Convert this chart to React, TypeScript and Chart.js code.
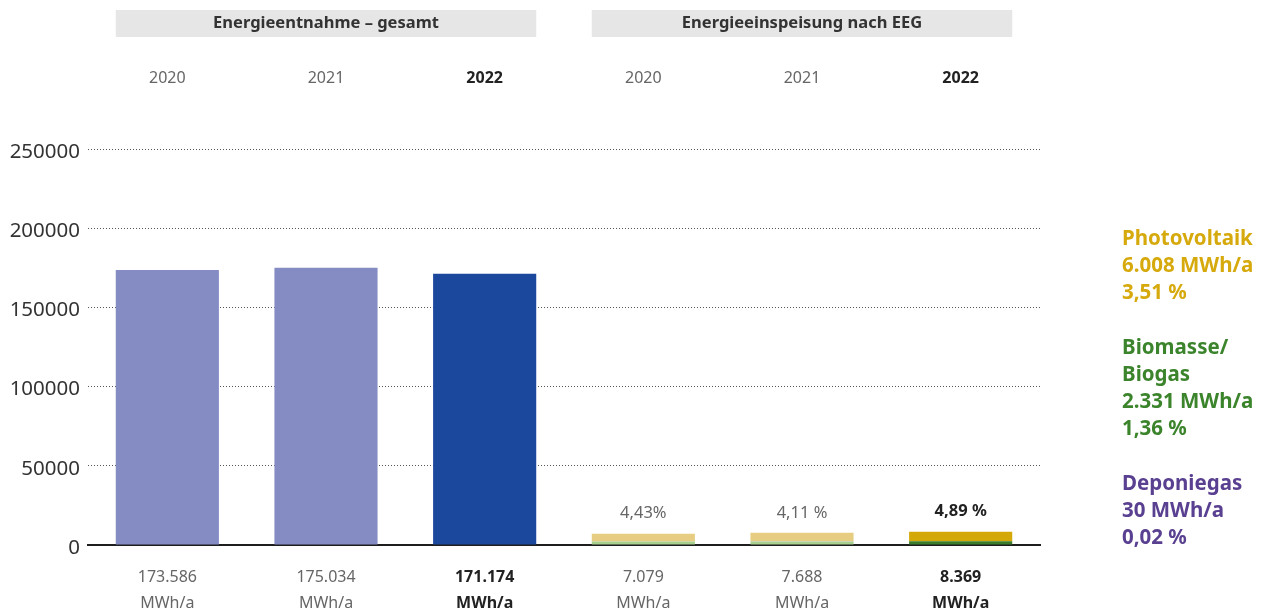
import React, { useEffect, useRef } from "react";
import { Chart, registerables } from "chart.js";

Chart.register(...registerables);

const years = ["2020", "2021", "2022", "2020", "2021", "2022"];
const totalLabels = ["173.586", "175.034", "171.174", "7.079", "7.688", "8.369"];
const unitLabel = "MWh/a";
const entnahme = [173586, 175034, 171174, null, null, null];
const biomasse = [null, null, null, 2250, 2280, 2331];
const deponiegas = [null, null, null, 29, 28, 30];
const photovoltaik = [null, null, null, 4800, 5380, 6008];
const shareLabels = ["", "", "", "4,43%", "4,11 %", "4,89 %"];
const groupTitles = ["Energieentnahme – gesamt", "Energieeinspeisung nach EEG"];
const legendBlocks = [
  { lines: ["Photovoltaik", "6.008 MWh/a", "3,51 %"], color: "#d6a90c" },
  { lines: ["Biomasse/", "Biogas", "2.331 MWh/a", "1,36 %"], color: "#3b842c" },
  { lines: ["Deponiegas", "30 MWh/a", "0,02 %"], color: "#5a4090" },
];

const FONT = "'Noto Sans', 'DejaVu Sans', sans-serif";
const isCurrent = (i: number) => i % 3 === 2;

const overlayPlugin = {
  id: "overlay",
  afterDraw(chart: any) {
    const ctx = chart.ctx;
    const area = chart.chartArea;
    const m0 = chart.getDatasetMeta(0);
    const mPV = chart.getDatasetMeta(3);
    const groups = [
      [m0.data[0], m0.data[2]],
      [mPV.data[3], mPV.data[5]],
    ];
    ctx.save();
    groups.forEach((g, gi) => {
      const a: any = g[0];
      const b: any = g[1];
      const left = a.x - a.width / 2;
      const right = b.x + b.width / 2;
      ctx.fillStyle = "#e6e6e6";
      ctx.fillRect(left, 10, right - left, 27);
      ctx.fillStyle = "#333333";
      ctx.font = `bold 16.5px ${FONT}`;
      ctx.textAlign = "center";
      ctx.textBaseline = "middle";
      ctx.fillText(groupTitles[gi], (left + right) / 2, 23);
    });
    mPV.data.forEach((el: any, i: number) => {
      if (!shareLabels[i]) return;
      ctx.font = `${isCurrent(i) ? "bold " : ""}16.5px ${FONT}`;
      ctx.fillStyle = isCurrent(i) ? "#222222" : "#666666";
      ctx.textAlign = "center";
      ctx.textBaseline = "middle";
      const top = Math.min(el.y, el.base);
      ctx.fillText(shareLabels[i], el.x, top - 20);
    });
    let y = 239;
    const x = area.right + 82;
    ctx.textAlign = "left";
    ctx.textBaseline = "middle";
    ctx.font = `bold 20.5px ${FONT}`;
    legendBlocks.forEach((blk) => {
      ctx.fillStyle = blk.color;
      blk.lines.forEach((ln) => {
        ctx.fillText(ln, x, y);
        y += 27;
      });
      y += 28;
    });
    ctx.restore();
  },
};

export default function App() {
  const ref = useRef<HTMLCanvasElement | null>(null);
  useEffect(() => {
    if (!ref.current) return;
    const chart = new Chart(ref.current, {
      type: "bar",
      data: {
        labels: years,
        datasets: [
          {
            label: "Energieentnahme",
            data: entnahme,
            backgroundColor: ["#858cc4", "#858cc4", "#1b479c", "#858cc4", "#858cc4", "#1b479c"],
          },
          {
            label: "Biomasse/Biogas",
            data: biomasse,
            backgroundColor: ["#a8d08e", "#a8d08e", "#3c7d2b", "#a8d08e", "#a8d08e", "#3c7d2b"],
          },
          {
            label: "Deponiegas",
            data: deponiegas,
            backgroundColor: ["#b9a8d6", "#b9a8d6", "#5a3f8e", "#b9a8d6", "#b9a8d6", "#5a3f8e"],
          },
          {
            label: "Photovoltaik",
            data: photovoltaik,
            backgroundColor: ["#e6cd82", "#e6cd82", "#d4a806", "#e6cd82", "#e6cd82", "#d4a806"],
          },
        ] as any,
      },
      options: {
        responsive: false,
        animation: false,
        layout: { padding: { left: 0, right: 228, top: 0, bottom: 0 } },
        datasets: { bar: { barPercentage: 0.65, categoryPercentage: 1, borderWidth: 0 } } as any,
        plugins: { legend: { display: false }, tooltip: { enabled: false } },
        scales: {
          x: {
            type: "category",
            position: "bottom",
            stacked: true,
            labels: totalLabels.map((t) => [t, unitLabel]) as any,
            grid: { display: false, drawTicks: false },
            border: { display: true, color: "#1e1e1e", width: 2 },
            afterFit: (s: any) => {
              s.height = 68;
            },
            ticks: {
              padding: 19,
              maxRotation: 0,
              autoSkip: false,
              color: (c: any) => (isCurrent(c.index) ? "#222222" : "#666666"),
              font: (c: any) => ({
                family: FONT,
                size: 16,
                weight: isCurrent(c.index) ? "bold" : "normal",
                lineHeight: 26 / 16,
              }),
            },
          },
          x2: {
            type: "category",
            position: "top",
            labels: years,
            grid: { display: false, drawTicks: false },
            border: { display: false },
            afterFit: (s: any) => {
              s.height = 149;
            },
            ticks: {
              padding: 61,
              maxRotation: 0,
              autoSkip: false,
              color: (c: any) => (isCurrent(c.index) ? "#222222" : "#666666"),
              font: (c: any) => ({
                family: FONT,
                size: 16,
                weight: isCurrent(c.index) ? "bold" : "normal",
                lineHeight: 20 / 16,
              }),
            },
          },
          y: {
            stacked: true,
            min: 0,
            max: 250000,
            afterFit: (s: any) => {
              s.width = 88;
            },
            grid: { color: "#555555", lineWidth: 1, drawTicks: false },
            border: { display: false, dash: [1, 2] },
            ticks: {
              stepSize: 50000,
              padding: 8,
              labelOffset: 3,
              color: "#333333",
              font: { family: FONT, size: 20.5 },
              callback: (v: any) => String(v),
            },
          },
        } as any,
      },
      plugins: [overlayPlugin],
    });
    return () => chart.destroy();
  }, []);
  return (
    <div style={{ position: "absolute", left: 0, top: 0, width: 1268, height: 613, background: "#ffffff" }}>
      <canvas ref={ref} width={1268} height={613} />
    </div>
  );
}
